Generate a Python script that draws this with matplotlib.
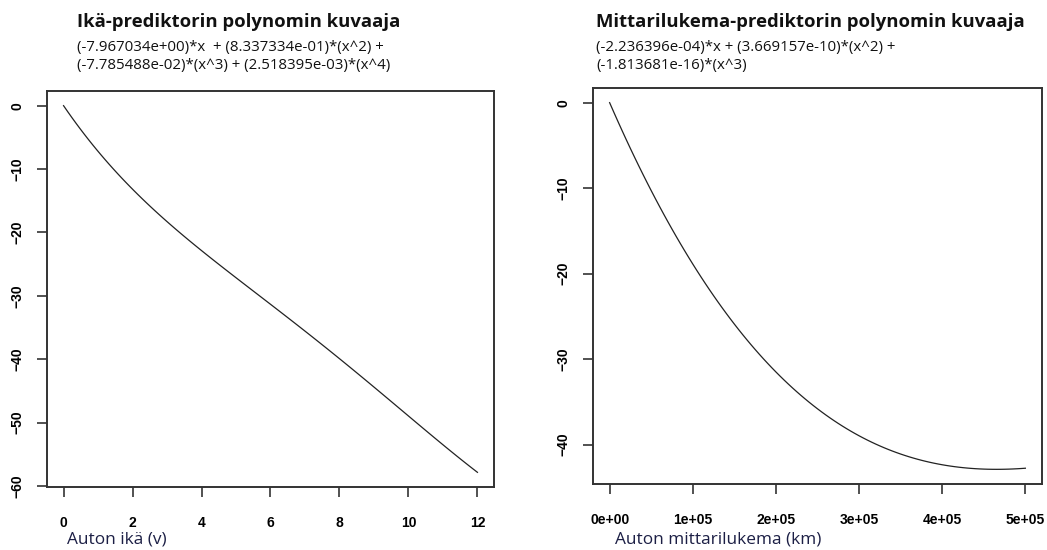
import numpy as np
import matplotlib
matplotlib.use("Agg")
import matplotlib.pyplot as plt
from matplotlib.ticker import FixedLocator

# Polynomial coefficients (x^1, x^2, x^3, ...) for each predictor
age_coefs = [-7.967034e+00, 8.337334e-01, -7.785488e-02, 2.518395e-03]
km_coefs = [-2.236396e-04, 3.669157e-10, -1.813681e-16]

age_range = (0, 12)
km_range = (0, 500000)

age_xticks = [0, 2, 4, 6, 8, 10, 12]
age_yticks = [0, -10, -20, -30, -40, -50, -60]
km_xticks = [0, 100000, 200000, 300000, 400000, 500000]
km_xticklabels = ["0e+00", "1e+05", "2e+05", "3e+05", "4e+05", "5e+05"]
km_yticks = [0, -10, -20, -30, -40]

titles = ["Ikä-prediktorin polynomin kuvaaja",
          "Mittarilukema-prediktorin polynomin kuvaaja"]
subtitles = [["(-7.967034e+00)*x  + (8.337334e-01)*(x^2) +",
              "(-7.785488e-02)*(x^3) + (2.518395e-03)*(x^4)"],
             ["(-2.236396e-04)*x + (3.669157e-10)*(x^2) +",
              "(-1.813681e-16)*(x^3)"]]
xlabels = ["Auton ikä (v)", "Auton mittarilukema (km)"]


def poly(x, coefs):
    return sum(c * x ** (i + 1) for i, c in enumerate(coefs))


W, H = 1047, 550
fig = plt.figure(figsize=(W / 100, H / 100), dpi=100)
fig.patch.set_facecolor("white")


def box(l, t, r, b):
    return [l / W, 1 - b / H, (r - l) / W, (b - t) / H]


ax1 = fig.add_axes(box(47, 91, 494, 487))
ax2 = fig.add_axes(box(593, 88, 1042, 484))

tick_font = dict(family="Liberation Sans", weight="bold", size=10)
text_color = "#111111"
label_color = "#1c1f45"


def style(ax, xr, yr):
    dx = (xr[1] - xr[0]) * 0.04
    dy = (yr[1] - yr[0]) * 0.04
    ax.set_xlim(xr[0] - dx, xr[1] + dx)
    ax.set_ylim(yr[0] - dy, yr[1] + dy)
    for s in ax.spines.values():
        s.set_linewidth(1.4)
        s.set_color("#333333")
    ax.tick_params(direction="out", length=7, width=1.2, color="#333333")
    ax.tick_params(axis="x", pad=14)
    ax.tick_params(axis="y", pad=9)
    for lab in ax.get_xticklabels():
        lab.set(**tick_font)
    for lab in ax.get_yticklabels():
        lab.set(**tick_font, rotation=90, va="center")


# Age predictor
xa = np.linspace(age_range[0], age_range[1], 101)
ya = poly(xa, age_coefs)
ax1.plot(xa, ya, color="#222222", lw=0.9)
ax1.xaxis.set_major_locator(FixedLocator(age_xticks))
ax1.yaxis.set_major_locator(FixedLocator(age_yticks))
style(ax1, age_range, (ya.min(), ya.max()))

# Odometer predictor
xk = np.linspace(km_range[0], km_range[1], 101)
yk = poly(xk, km_coefs)
ax2.plot(xk, yk, color="#222222", lw=0.9)
ax2.set_xticks(km_xticks)
ax2.set_xticklabels(km_xticklabels)
ax2.yaxis.set_major_locator(FixedLocator(km_yticks))
style(ax2, km_range, (yk.min(), yk.max()))

# Titles, formulas and axis labels
title_x = [77, 596]
xlabel_x = [67, 615]
for i in range(2):
    fig.text(title_x[i] / W, 1 - 22 / H, titles[i], fontsize=13.3,
             fontweight="bold", family="Open Sans", color=text_color,
             va="center", ha="left")
    for j, line in enumerate(subtitles[i]):
        fig.text(title_x[i] / W, 1 - (47 + 18 * j) / H, line, fontsize=10.8,
                 family="Open Sans", color=text_color, va="center", ha="left")
    fig.text(xlabel_x[i] / W, 1 - 540 / H, xlabels[i], fontsize=12.4,
             family="Open Sans", color=label_color, va="center", ha="left")

fig.savefig("out.png", dpi=100, facecolor="white")
